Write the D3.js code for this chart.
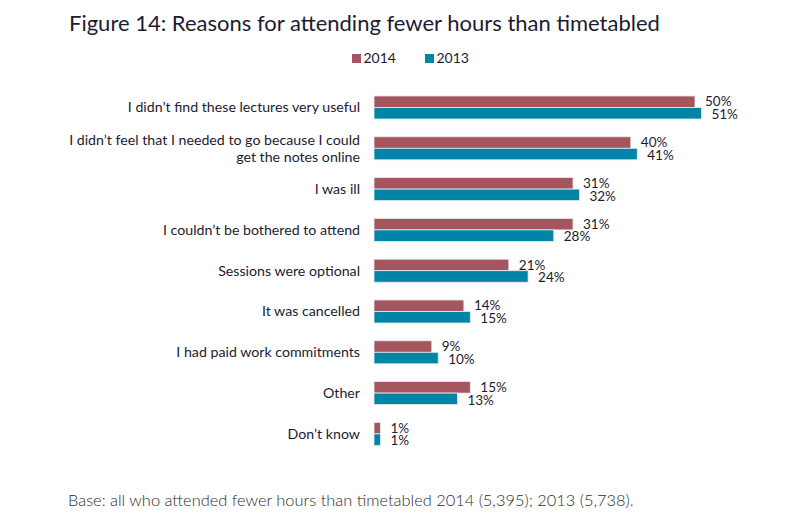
<!DOCTYPE html>
<html>
<head>
<meta charset="utf-8">
<script src="https://cdn.jsdelivr.net/npm/d3@7"></script>
<style>
  body { margin: 0; background: #fff; }
  svg text { font-family: Lato, "Open Sans", sans-serif; fill: #1c1c30; }
</style>
</head>
<body>
<div id="chart"></div>
<script>
// ! Data
var reasons = [
  ["I didn\u2019t find these lectures very useful"],
  ["I didn\u2019t feel that I needed to go because I could", "get the notes online"],
  ["I was ill"],
  ["I couldn\u2019t be bothered to attend"],
  ["Sessions were optional"],
  ["It was cancelled"],
  ["I had paid work commitments"],
  ["Other"],
  ["Don\u2019t know"]
];
var years = ["2014", "2013"];
var values_2014 = [50, 40, 31, 31, 21, 14, 9, 15, 1];
var values_2013 = [51, 41, 32, 28, 24, 15, 10, 13, 1];
var year_colours = ["#a6555f", "#0085a6"];

// ! Parameters
var width = 804,
    height = 529,
    bar_left = 374;

var svg = d3.select("#chart")
  .append("svg")
  .attr("width", width)
  .attr("height", height);

// title
svg.append("text")
  .attr("x", 69)
  .attr("y", 31)
  .style("font-size", "22px")
  .text("Figure 14: Reasons for attending fewer hours than timetabled");

// legend
var legend = svg.selectAll(".legend")
  .data(years)
  .enter()
  .append("g")
  .attr("class", "legend")
  .attr("transform", function(d, i) { return "translate(" + (352 + i * 73) + ",54)"; });

legend.append("rect")
  .attr("width", 9)
  .attr("height", 9)
  .attr("fill", function(d, i) { return year_colours[i]; });

legend.append("text")
  .attr("x", 11.5)
  .attr("y", 9)
  .style("font-size", "14px")
  .text(function(d) { return d; });

// scales
var idx = d3.range(reasons.length);

var y_scale = d3.scaleBand()
  .domain(idx)
  .range([87.1, 454.3])
  .paddingInner(0.436)
  .paddingOuter(0.218);

var y_inner = d3.scaleBand()
  .domain(years)
  .range([0, y_scale.bandwidth()]);

var x_scale = d3.scaleLinear()
  .domain([0, 50])
  .range([bar_left, 695]);

var groups = svg.selectAll(".group")
  .data(idx)
  .enter()
  .append("g")
  .attr("class", "group")
  .attr("transform", function(d) { return "translate(0," + y_scale(d) + ")"; });

// category labels
groups.append("text")
  .attr("text-anchor", "end")
  .style("font-size", "14.2px")
  .each(function(d) {
    var lines = reasons[d];
    var t = d3.select(this);
    lines.forEach(function(line, j) {
      t.append("tspan")
        .attr("x", 360)
        .attr("y", y_scale.bandwidth() / 2 + (j - (lines.length - 1) / 2) * 17.5)
        .attr("dy", "0.35em")
        .text(line);
    });
  });

var series = [values_2014, values_2013];

years.forEach(function(yr, s) {
  groups.append("rect")
    .attr("x", bar_left)
    .attr("y", y_inner(yr))
    .attr("width", function(d) { return x_scale(series[s][d]) - bar_left; })
    .attr("height", y_inner.bandwidth())
    .attr("fill", year_colours[s])
    .attr("stroke", "#e6ecef")
    .attr("stroke-width", 0.8);

  groups.append("text")
    .attr("x", function(d) { return x_scale(series[s][d]) + 10; })
    .attr("y", y_inner(yr) + y_inner.bandwidth() / 2 + (s === 0 ? 0 : 1))
    .attr("dy", "0.35em")
    .style("font-size", "13.5px")
    .text(function(d) { return series[s][d] + "%"; });
});

// footnote
svg.append("text")
  .attr("x", 68)
  .attr("y", 506)
  .style("font-size", "16.4px")
  .style("font-weight", 300)
  .style("fill", "#2e2e2e")
  .text("Base: all who attended fewer hours than timetabled 2014 (5,395); 2013 (5,738).");
</script>
</body>
</html>
